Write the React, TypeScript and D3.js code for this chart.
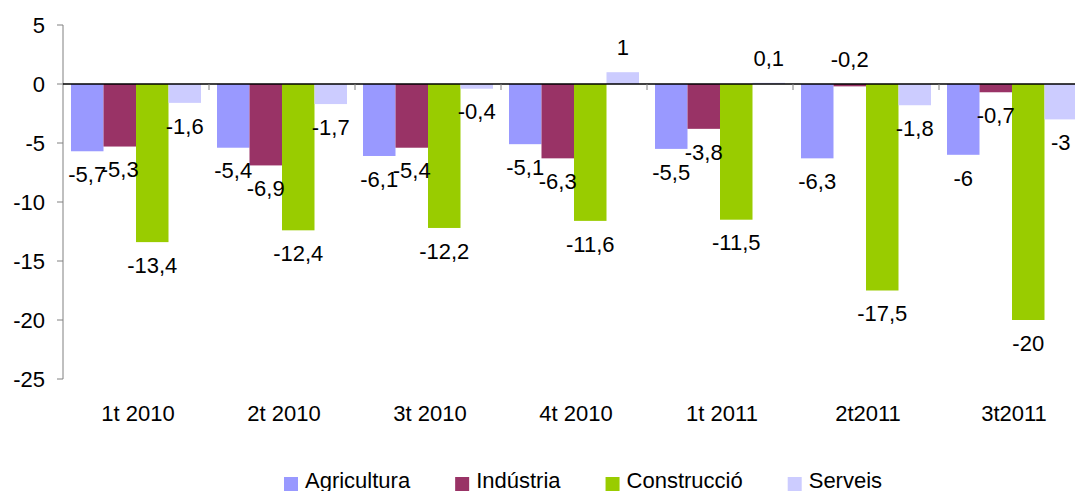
import { useEffect, useRef } from "react";
import * as d3 from "d3";

// quarters shown on the category axis
const categories = ["1t 2010", "2t 2010", "3t 2010", "4t 2010", "1t 2011", "2t2011", "3t2011"];

// series values (percentage change)
const agricultura = [-5.7, -5.4, -6.1, -5.1, -5.5, -6.3, -6];
const industria = [-5.3, -6.9, -5.4, -6.3, -3.8, -0.2, -0.7];
const construccio = [-13.4, -12.4, -12.2, -11.6, -11.5, -17.5, -20];
const serveis = [-1.6, -1.7, -0.4, 1, 0.1, -1.8, -3];

const seriesNames = ["Agricultura", "Indústria", "Construcció", "Serveis"];
const yTicks = [5, 0, -5, -10, -15, -20, -25];

const colors = ["#9999ff", "#993366", "#99cc00", "#ccccff"];
const font = "'Liberation Sans', Arial, sans-serif";

// labels that Excel pushed above the axis
const labelsAbove = new Set(["2t2011|Indústria"]);

const W = 1075;
const H = 491;

function App() {
  const legendRef = useRef<SVGGElement>(null);

  const series = [agricultura, industria, construccio, serveis].map((values, i) => ({
    name: seriesNames[i],
    color: colors[i],
    values,
  }));

  const x = d3.scaleBand<string>().domain(categories).range([63, 63 + 146 * categories.length]).padding(0);
  const bw = x.bandwidth();
  const xs = d3.scaleBand<string>().domain(seriesNames).range([8, bw - 8]).padding(0);
  const y = d3.scaleLinear().domain([-25, 5]).range([379, 25]);
  const fmt = (v: number) => String(v).replace(".", ",");

  // lay out legend items one after another, measuring each label
  useEffect(() => {
    const g = d3.select(legendRef.current);
    let cx = 284;
    g.selectAll<SVGGElement, unknown>("g.item").each(function () {
      const item = d3.select(this);
      item.attr("transform", `translate(${cx},0)`);
      const t = item.select<SVGTextElement>("text").node();
      const len = t ? t.getComputedTextLength() : 0;
      cx += 21 + len + 45;
    });
  }, []);

  return (
    <svg width={W} height={H} style={{ position: "absolute", left: 0, top: 0, fontFamily: font }}>
      <rect width={W} height={H} fill="#fff" />

      {/* bars */}
      {series.map((s) =>
        s.values.map((v, i) => {
          const x0 = (x(categories[i]) ?? 0) + (xs(s.name) ?? 0);
          return (
            <rect
              key={s.name + i}
              x={x0}
              y={y(Math.max(v, 0))}
              width={xs.bandwidth()}
              height={Math.abs(y(v) - y(0))}
              fill={s.color}
            />
          );
        })
      )}

      {/* y axis */}
      <line x1={63} x2={63} y1={y(5)} y2={y(-25)} stroke="#808080" strokeWidth={1} />
      {yTicks.map((t) => (
        <g key={t}>
          <line x1={57} x2={63} y1={y(t)} y2={y(t)} stroke="#808080" />
          <text x={45} y={y(t)} dy="0.35em" textAnchor="end" fontSize={22} fill="#000">
            {t}
          </text>
        </g>
      ))}

      {/* category axis on the zero line */}
      <line x1={63} x2={63 + 146 * categories.length} y1={y(0)} y2={y(0)} stroke="#000" strokeWidth={1.3} />
      {categories.map((c) => (
        <g key={c}>
          <line x1={(x(c) ?? 0) + bw} x2={(x(c) ?? 0) + bw} y1={y(0)} y2={y(0) + 6} stroke="#808080" />
          <text x={(x(c) ?? 0) + bw / 2 + 2} y={421} textAnchor="middle" fontSize={22} fill="#000">
            {c}
          </text>
        </g>
      ))}

      {/* data labels */}
      {series.map((s) =>
        s.values.map((v, i) => {
          const cx = (x(categories[i]) ?? 0) + (xs(s.name) ?? 0) + xs.bandwidth() / 2;
          const above = v >= 0 || labelsAbove.has(categories[i] + "|" + s.name);
          const cy = above ? y(Math.max(v, 0)) - 25 : y(v) + 23;
          return (
            <text key={"l" + s.name + i} x={cx} y={cy} dy="0.35em" textAnchor="middle" fontSize={22} fill="#000">
              {fmt(v)}
            </text>
          );
        })
      )}

      {/* legend */}
      <g ref={legendRef}>
        {series.map((s) => (
          <g className="item" key={s.name}>
            <rect x={0} y={477} width={14} height={14} fill={s.color} />
            <text x={21} y={488} fontSize={22} fill="#000">
              {s.name}
            </text>
          </g>
        ))}
      </g>
    </svg>
  );
}

export default App;
